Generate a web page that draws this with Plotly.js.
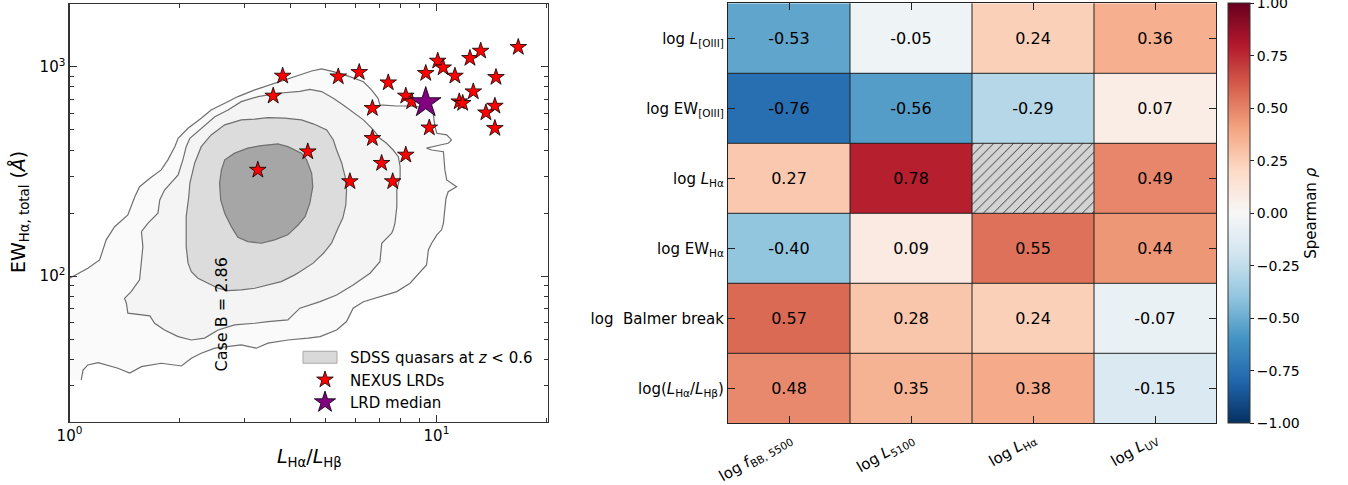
<!DOCTYPE html>
<html>
<head>
<meta charset="utf-8">
<script src="https://cdn.plot.ly/plotly-3.0.1.min.js"></script>
<style>
  html, body { margin: 0; padding: 0; background: #ffffff; }
  #chart { width: 1348px; height: 485px; }
</style>
</head>
<body>
<div id="chart"></div>
<script>
// ---------- Left panel: Balmer decrement vs. H-alpha equivalent width ----------

// NEXUS little red dots
const lrdRatio = [3.81, 3.59, 5.40, 6.16, 7.39, 6.69, 8.25, 8.56, 9.35, 10.08,
                  10.43, 11.23, 9.56, 12.34, 13.20, 16.71, 14.53, 12.60, 11.54, 11.79,
                  14.43, 13.64, 14.43, 6.69, 8.25, 7.09, 7.60, 5.81, 4.46, 3.26];
const lrdEW    = [903, 725, 896, 940, 839, 633, 725, 681, 930, 1065,
                  989, 903, 511, 1097, 1188, 1238, 890, 760, 681, 669,
                  649, 603, 508, 455, 379, 346, 283, 283, 393, 321];

// LRD median
const medianRatio = [9.35];
const medianEW = [673];

// Case B recombination value
const caseB = 2.86;

// SDSS quasar density contours (log10 ratio, log10 EW), outermost to innermost
const sdssOuterLogRatio = [0, 0.023, 0.050, 0.082, 0.091, 0.100, 0.123, 0.159, 0.178, 0.191,
  0.219, 0.250, 0.268, 0.287, 0.296, 0.323, 0.359, 0.386, 0.423, 0.459, 0.505, 0.559, 0.614,
  0.660, 0.687, 0.719, 0.764, 0.801, 0.823, 0.841, 0.846, 0.892, 0.928, 0.955, 0.982, 0.991,
  0.996, 1.001, 1.028, 1.041, 1.032, 1.010, 0.973, 0.987, 1.019, 1.023, 1.028, 1.055, 1.032,
  1.026, 1.023, 1.019, 1.014, 1.001, 0.987, 0.978, 0.973, 0.946, 0.928, 0.892, 0.846, 0.801,
  0.773, 0.755, 0.728, 0.683, 0.650, 0.595, 0.541, 0.509, 0.468, 0.396, 0.359, 0.332, 0.305,
  0.250, 0.196, 0.164, 0.132, 0.078, 0.050, 0.037, 0.032];
const sdssOuterLogEW = [1.990, 2.014, 2.038, 2.077, 2.125, 2.173, 2.236, 2.292, 2.379, 2.427,
  2.467, 2.507, 2.555, 2.618, 2.658, 2.706, 2.754, 2.793, 2.825, 2.857, 2.889, 2.921, 2.952,
  2.979, 2.989, 2.976, 2.952, 2.928, 2.889, 2.849, 2.817, 2.812, 2.812, 2.809, 2.803, 2.778,
  2.714, 2.682, 2.674, 2.650, 2.634, 2.626, 2.611, 2.602, 2.594, 2.507, 2.459, 2.427, 2.403,
  2.372, 2.316, 2.253, 2.221, 2.197, 2.157, 2.125, 2.053, 1.998, 1.966, 1.926, 1.902, 1.878,
  1.847, 1.783, 1.743, 1.711, 1.704, 1.695, 1.680, 1.656, 1.672, 1.656, 1.632, 1.608, 1.571,
  1.584, 1.568, 1.537, 1.560, 1.587, 1.576, 1.552, 1.505];

const sdssMidLogRatio = [0.196, 0.214, 0.241, 0.246, 0.259, 0.296, 0.309, 0.318, 0.328, 0.359,
  0.396, 0.432, 0.468, 0.514, 0.568, 0.628, 0.655, 0.687, 0.719, 0.746, 0.778, 0.801, 0.828,
  0.846, 0.864, 0.882, 0.896, 0.901, 0.901, 0.892, 0.892, 0.887, 0.882, 0.878, 0.851, 0.846,
  0.819, 0.773, 0.728, 0.683, 0.628, 0.623, 0.595, 0.541, 0.505, 0.450, 0.405, 0.368, 0.332,
  0.296, 0.259, 0.232, 0.219, 0.159, 0.155, 0.150, 0.168, 0.191, 0.196, 0.200];
const sdssMidLogEW = [2.212, 2.253, 2.300, 2.364, 2.411, 2.483, 2.555, 2.618, 2.658, 2.706,
  2.761, 2.793, 2.833, 2.857, 2.873, 2.882, 2.891, 2.881, 2.849, 2.817, 2.778, 2.746, 2.698,
  2.658, 2.634, 2.602, 2.570, 2.523, 2.475, 2.411, 2.332, 2.253, 2.221, 2.205, 2.157, 2.069,
  2.014, 1.958, 1.910, 1.878, 1.847, 1.839, 1.791, 1.783, 1.775, 1.767, 1.743, 1.704, 1.695,
  1.711, 1.743, 1.775, 1.810, 1.823, 1.871, 1.894, 1.926, 1.982, 2.062, 2.141];

const sdssInnerLogRatio = [0.318, 0.318, 0.325, 0.328, 0.341, 0.359, 0.386, 0.423, 0.468, 0.505,
  0.541, 0.586, 0.632, 0.664, 0.701, 0.719, 0.728, 0.742, 0.751, 0.755, 0.753, 0.745, 0.732,
  0.714, 0.692, 0.664, 0.628, 0.614, 0.577, 0.541, 0.505, 0.468, 0.432, 0.405, 0.377, 0.350,
  0.332, 0.323, 0.318];
const sdssInnerLogEW = [2.173, 2.284, 2.379, 2.443, 2.539, 2.618, 2.674, 2.722, 2.746, 2.749,
  2.757, 2.754, 2.746, 2.727, 2.698, 2.650, 2.602, 2.539, 2.475, 2.411, 2.340, 2.278, 2.230,
  2.157, 2.109, 2.062, 2.021, 2.006, 1.974, 1.958, 1.942, 1.934, 1.931, 1.942, 1.966, 1.990,
  2.021, 2.062, 2.141];

const sdssCoreLogRatio = [0.414, 0.423, 0.450, 0.486, 0.523, 0.568, 0.595, 0.632, 0.646, 0.660,
  0.663, 0.655, 0.642, 0.623, 0.595, 0.559, 0.523, 0.486, 0.459, 0.441, 0.423, 0.412, 0.409];
const sdssCoreLogEW = [2.507, 2.555, 2.587, 2.611, 2.623, 2.631, 2.618, 2.587, 2.555, 2.491,
  2.427, 2.348, 2.284, 2.244, 2.197, 2.173, 2.157, 2.165, 2.185, 2.236, 2.300, 2.364, 2.443];

// ---------- Right panel: Spearman correlation matrix ----------
const rowLabels = [
  'log <i>L</i><sub>[OIII]</sub>',
  'log EW<sub>[OIII]</sub>',
  'log <i>L</i><sub>Hα</sub>',
  'log EW<sub>Hα</sub>',
  'log\u00a0\u00a0Balmer break',
  'log(<i>L</i><sub>Hα</sub>/<i>L</i><sub>Hβ</sub>)'
];
const colLabels = [
  'log <i>f</i><sub>BB, 5500</sub>',
  'log <i>L</i><sub>5100</sub>',
  'log <i>L</i><sub>Hα</sub>',
  'log <i>L</i><sub>UV</sub>'
];
const rho = [
  [-0.53, -0.05,  0.24,  0.36],
  [-0.76, -0.56, -0.29,  0.07],
  [ 0.27,  0.78,  null,  0.49],
  [-0.40,  0.09,  0.55,  0.44],
  [ 0.57,  0.28,  0.24, -0.07],
  [ 0.48,  0.35,  0.38, -0.15]
];
const colorbarTicks = [-1, -0.75, -0.5, -0.25, 0, 0.25, 0.5, 0.75, 1];

// ---------- helpers ----------
const pow10 = a => a.map(v => Math.pow(10, v));
const W = 1348, H = 485;
const FONT = 'DejaVu Sans';
const contourEdge = '#6f6f6f';

// matplotlib RdBu_r
const rdbuR = [
  [0.0, '#053061'], [0.1, '#2166ac'], [0.2, '#4393c3'], [0.3, '#92c5de'],
  [0.4, '#d1e5f0'], [0.5, '#f7f7f7'], [0.6, '#fddbc7'], [0.7, '#f4a582'],
  [0.8, '#d6604d'], [0.9, '#b2182b'], [1.0, '#67001f']
];

const fmtTick = v => (v < 0 ? '\u2212' : '') + Math.abs(v).toFixed(2);

// left-panel x range lower bound (ratio = 1) closes the outer contour on the axis
const ratioMin = 1;
const outerX = pow10(sdssOuterLogRatio), outerY = pow10(sdssOuterLogEW);

const traces = [];

// outer contour: fill closed along the left axis, outline drawn open
traces.push({
  x: outerX.concat([ratioMin, ratioMin]),
  y: outerY.concat([outerY[outerY.length - 1], outerY[0]]),
  type: 'scatter', mode: 'lines', fill: 'toself', fillcolor: '#fafafa',
  line: { width: 0 }, hoverinfo: 'skip', showlegend: false, xaxis: 'x', yaxis: 'y'
});
traces.push({
  x: outerX, y: outerY, type: 'scatter', mode: 'lines',
  line: { color: contourEdge, width: 1.2 }, hoverinfo: 'skip', showlegend: false,
  xaxis: 'x', yaxis: 'y'
});

function closedLevel(lx, ly, fill, legend) {
  const x = pow10(lx), y = pow10(ly);
  x.push(x[0]); y.push(y[0]);
  return {
    x, y, type: 'scatter', mode: 'lines', fill: 'toself', fillcolor: fill,
    line: { color: contourEdge, width: 1.2 }, hoverinfo: 'skip',
    showlegend: !!legend, name: legend || '', xaxis: 'x', yaxis: 'y'
  };
}
traces.push(closedLevel(sdssMidLogRatio, sdssMidLogEW, '#f4f4f4'));
traces.push(closedLevel(sdssInnerLogRatio, sdssInnerLogEW, '#dcdcdc',
  'SDSS quasars at <i>z</i> &lt; 0.6'));
traces.push(closedLevel(sdssCoreLogRatio, sdssCoreLogEW, '#a6a6a6'));

traces.push({
  x: lrdRatio, y: lrdEW, type: 'scatter', mode: 'markers', name: 'NEXUS LRDs',
  marker: { symbol: 'star', size: 12.5, color: '#ff0000', line: { color: '#000', width: 0.8 } },
  xaxis: 'x', yaxis: 'y'
});
traces.push({
  x: medianRatio, y: medianEW, type: 'scatter', mode: 'markers', name: 'LRD median',
  marker: { symbol: 'star', size: 23, color: '#800080', line: { color: '#000', width: 0.8 } },
  xaxis: 'x', yaxis: 'y'
});

// correlation heatmap
const colIdx = colLabels.map((_, i) => i);
const rowIdx = rowLabels.map((_, i) => i);
traces.push({
  type: 'heatmap', z: rho, x: colIdx, y: rowIdx,
  zmin: -1, zmax: 1, colorscale: rdbuR,
  text: rho.map(r => r.map(v => v === null ? '' : v.toFixed(2))),
  texttemplate: '%{text}', textfont: { family: FONT, size: 16, color: '#000' },
  hoverongaps: false, xaxis: 'x2', yaxis: 'y2',
  colorbar: {
    x: 1228 / W, xanchor: 'left', xref: 'paper', xpad: 0,
    y: (H - 213.3) / H, yanchor: 'middle', yref: 'paper', ypad: 0,
    len: 420, lenmode: 'pixels', thickness: 22, thicknessmode: 'pixels',
    outlinewidth: 1, outlinecolor: '#333',
    tickmode: 'array', tickvals: colorbarTicks, ticktext: colorbarTicks.map(fmtTick),
    ticks: 'outside', ticklen: 4, tickwidth: 1, tickcolor: '#222',
    ticklabeloverflow: 'allow',
    tickfont: { family: FONT, size: 14, color: '#000' },
    title: { text: 'Spearman <i>ρ</i>', side: 'right', font: { family: FONT, size: 15, color: '#000' } }
  }
});

// hatched cells where no correlation is defined
const missing = [];
rho.forEach((r, i) => r.forEach((v, j) => { if (v === null) missing.push([j, i]); }));
traces.push({
  type: 'bar', x: missing.map(m => m[0]), y: missing.map(() => 1),
  base: missing.map(m => m[1] - 0.5), width: 1,
  marker: {
    color: '#d3d3d3', line: { width: 0 },
    pattern: { shape: '/', fgcolor: '#3a3a3a', bgcolor: '#d3d3d3', size: 7, solidity: 0.14 }
  },
  hoverinfo: 'skip', showlegend: false, xaxis: 'x2', yaxis: 'y2'
});

// cell borders
const shapes = [];
for (let i = 1; i < colLabels.length; i++) {
  shapes.push({ type: 'line', xref: 'x2', yref: 'y2 domain', x0: i - 0.5, x1: i - 0.5, y0: 0, y1: 1,
                line: { color: '#222', width: 1 }, layer: 'above' });
}
for (let j = 1; j < rowLabels.length; j++) {
  shapes.push({ type: 'line', xref: 'x2 domain', yref: 'y2', x0: 0, x1: 1, y0: j - 0.5, y1: j - 0.5,
                line: { color: '#222', width: 1 }, layer: 'above' });
}
// Case B line
shapes.push({ type: 'line', xref: 'x', yref: 'y domain', x0: Math.log10(caseB), x1: Math.log10(caseB),
              y0: 0, y1: 1, line: { color: '#000', width: 1.3, dash: '5px,3px' }, layer: 'above' });

const frame = { showline: true, linecolor: '#333', linewidth: 1.1, mirror: 'allticks',
                ticks: 'inside', tickcolor: '#333', showgrid: false, zeroline: false };

const layout = {
  width: W, height: H,
  margin: { l: 0, r: 0, t: 0, b: 0 },
  paper_bgcolor: '#fff', plot_bgcolor: '#fff',
  font: { family: FONT, size: 15, color: '#000' },
  showlegend: true,
  legend: {
    x: 300 / W, y: (H - 341) / H, xanchor: 'left', yanchor: 'top',
    bgcolor: 'rgba(0,0,0,0)', borderwidth: 0, font: { family: FONT, size: 15 },
    tracegroupgap: 0, itemsizing: 'trace', itemwidth: 40
  },
  xaxis: Object.assign({}, frame, {
    domain: [69.5 / W, 548 / W], anchor: 'y', type: 'log', range: [0, 1.304],
    tickmode: 'array', tickvals: [1, 10], ticktext: ['10<sup>0</sup>', '10<sup>1</sup>'],
    ticklen: 7, tickfont: { size: 15 },
    minor: { tickmode: 'array', tickvals: [2, 3, 4, 5, 6, 7, 8, 9, 20], ticks: 'inside',
             ticklen: 4, tickcolor: '#333' }
  }),
  yaxis: Object.assign({}, frame, {
    domain: [(H - 421.5) / H, (H - 4) / H], anchor: 'x', type: 'log', range: [1.306, 3.299],
    tickmode: 'array', tickvals: [100, 1000], ticktext: ['10<sup>2</sup>', '10<sup>3</sup>'],
    ticklen: 7, tickfont: { size: 15 },
    minor: { tickmode: 'array',
             tickvals: [30, 40, 50, 60, 70, 80, 90, 200, 300, 400, 500, 600, 700, 800, 900],
             ticks: 'inside', ticklen: 4, tickcolor: '#333' }
  }),
  xaxis2: Object.assign({}, frame, {
    domain: [728 / W, 1216 / W], anchor: 'y2', range: [-0.5, colLabels.length - 0.5],
    tickmode: 'array', tickvals: colIdx, ticktext: colLabels, tickangle: -30,
    ticklen: 7, linecolor: '#222', tickcolor: '#222', tickfont: { size: 15 }
  }),
  yaxis2: Object.assign({}, frame, {
    domain: [(H - 423.3) / H, (H - 3.3) / H], anchor: 'x2', range: [rowLabels.length - 0.5, -0.5],
    tickmode: 'array', tickvals: rowIdx, ticktext: rowLabels,
    ticklen: 7, linecolor: '#222', tickcolor: '#222', tickfont: { size: 15 }
  }),
  shapes: shapes,
  annotations: [
    { text: '<i>L</i><sub>Hα</sub>/<i>L</i><sub>Hβ</sub>', xref: 'paper', yref: 'paper',
      x: 309 / W, y: (H - 457) / H, xanchor: 'center', yanchor: 'middle', showarrow: false,
      font: { size: 19 } },
    { text: 'EW<sub>Hα, total</sub> (<i>Å</i>)', xref: 'paper', yref: 'paper',
      x: 19 / W, y: (H - 212) / H, xanchor: 'center', yanchor: 'middle', showarrow: false,
      textangle: -90, font: { size: 19 } },
    { text: 'Case B = ' + caseB.toFixed(2), xref: 'x', yref: 'paper',
      x: Math.log10(caseB), y: (H - 314) / H, xanchor: 'right', yanchor: 'middle',
      xshift: -3, showarrow: false, textangle: -90, font: { size: 16 } }
  ]
};

Plotly.newPlot('chart', traces, layout, { displayModeBar: false, staticPlot: true })
  .then(gd => {
    // draw the SDSS legend key as a filled patch with a thin border
    const item = gd.querySelector('.legend .traces');
    if (!item) return;
    const fillPath = item.querySelector('.js-fill');
    const linePath = item.querySelector('.js-line');
    if (fillPath) {
      fillPath.setAttribute('d', 'M3,-6h34v12h-34z');
      fillPath.style.fill = '#d9d9d9';
      fillPath.style.stroke = '#a8a8a8';
      fillPath.style.strokeWidth = '1px';
    }
    if (linePath) linePath.style.display = 'none';
  });
</script>
</body>
</html>
